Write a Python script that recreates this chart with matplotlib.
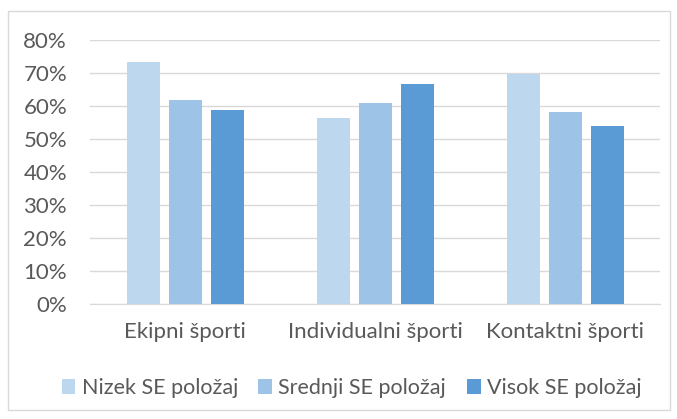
import matplotlib.pyplot as plt
import numpy as np
from matplotlib.patches import Rectangle
from matplotlib.ticker import PercentFormatter

plt.rcParams['font.family'] = ['Lato', 'DejaVu Sans']

categories = ['Ekipni športi', 'Individualni športi', 'Kontaktni športi']
series_names = ['Nizek SE položaj', 'Srednji SE položaj', 'Visok SE položaj']
nizek = [73.4, 56.5, 69.7]
srednji = [61.9, 60.9, 58.3]
visok = [58.8, 66.7, 53.9]
colors = ['#BDD7EE', '#9DC3E6', '#5B9BD5']
text_col = '#595959'

fig = plt.figure(figsize=(6.77, 4.19), dpi=100)
ax = fig.add_axes([0.133, 0.2745, 0.842, 0.6295])

# okvir grafikona
fig.patches.append(Rectangle((0.012, 0.022), 0.978, 0.951, transform=fig.transFigure,
                             fill=False, edgecolor='#D9D9D9', linewidth=1))

x = np.arange(len(categories))
width = 0.174
step = 0.221
for k, (vals, name) in enumerate(zip([nizek, srednji, visok], series_names)):
    ax.bar(x + (k - 1) * step, vals, width, color=colors[k], label=name, zorder=3)

ax.set_xlim(-0.5, 2.5)
ax.set_ylim(0, 80)
ax.set_yticks(np.arange(0, 81, 10))
ax.yaxis.set_major_formatter(PercentFormatter(decimals=0))
ax.set_xticks(x)
ax.set_xticklabels(categories)
ax.grid(axis='y', color='#D9D9D9', linewidth=1, zorder=0)
for s in ['top', 'right', 'left']:
    ax.spines[s].set_visible(False)
ax.spines['bottom'].set_color('#D9D9D9')
ax.tick_params(axis='both', length=0, labelsize=16, colors=text_col)
ax.tick_params(axis='x', pad=13)
ax.tick_params(axis='y', pad=16.5)

leg = fig.legend(loc='center', bbox_to_anchor=(0.519, 0.074), ncol=3, frameon=False,
                 fontsize=15.5, handlelength=0.65, handleheight=0.65, handletextpad=0.28,
                 columnspacing=0.95)
for t in leg.get_texts():
    t.set_color(text_col)

fig.savefig('out.png', dpi=100)
